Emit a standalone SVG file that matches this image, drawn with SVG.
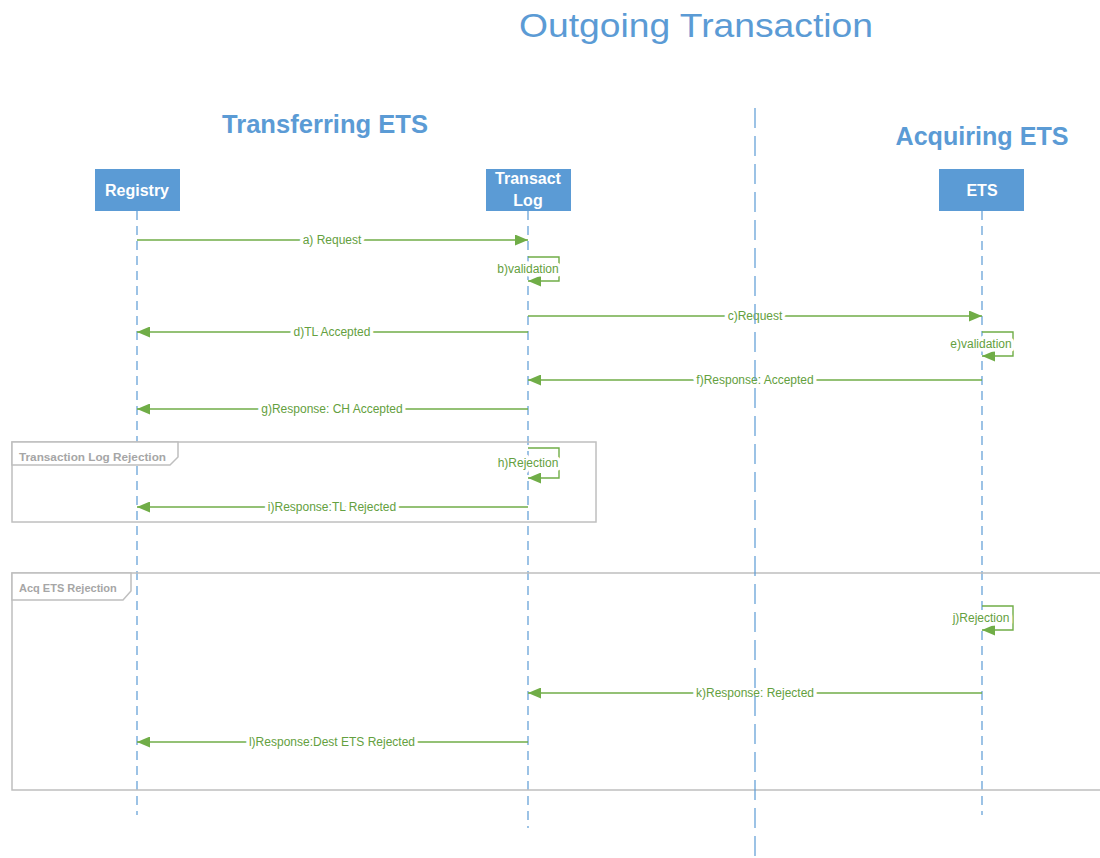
<svg xmlns="http://www.w3.org/2000/svg" width="1100" height="858" viewBox="0 0 1100 858">
  <style>
    .title { font-family: "Liberation Sans", Arial, sans-serif; fill: #5B9BD5; }
    .actor rect { fill: #5B9BD5; }
    .actor text { font-family: "Liberation Sans", Arial, sans-serif; font-weight: bold; font-size: 16px; fill: #fff; text-anchor: middle; }
    .lifeline { stroke: #5B9BD5; stroke-width: 1.2; stroke-dasharray: 9 6; fill: none; }
    .divider { stroke: #5B9BD5; stroke-width: 1.2; stroke-dasharray: 20 8; fill: none; }
    .msg { stroke: #70AD47; stroke-width: 1.4; fill: none; }
    .lbl { font-family: "Liberation Sans", Arial, sans-serif; font-size: 12px; fill: #64A040; text-anchor: middle;
           stroke: #fff; stroke-width: 7; stroke-linejoin: round; paint-order: stroke; }
    .frame { stroke: #BFBFBF; stroke-width: 1.5; fill: none; }
    .tab { stroke: #BFBFBF; stroke-width: 1.5; fill: #fff; }
    .ftxt { font-family: "Liberation Sans", Arial, sans-serif; font-size: 11px; font-weight: bold; fill: #A6A6A6; }
  </style>
  <defs>
    <marker id="arrow" markerWidth="13" markerHeight="11" refX="13" refY="5.5" orient="auto" markerUnits="userSpaceOnUse">
      <path d="M0,0 L13,5.5 L0,11 Z" fill="#70AD47"/>
    </marker>
  </defs>

  <rect width="1100" height="858" fill="#fff"/>

  <!-- headings -->
  <text class="title" x="696" y="37" font-size="34" text-anchor="middle" textLength="354" lengthAdjust="spacingAndGlyphs">Outgoing Transaction</text>
  <text class="title" x="325" y="133" font-size="25" font-weight="bold" text-anchor="middle" textLength="206" lengthAdjust="spacingAndGlyphs">Transferring ETS</text>
  <text class="title" x="982" y="145" font-size="25" font-weight="bold" text-anchor="middle" textLength="173" lengthAdjust="spacingAndGlyphs">Acquiring ETS</text>

  <!-- lifelines -->
  <g id="lifelines">
    <line class="lifeline" x1="137" y1="211" x2="137" y2="815"/>
    <line class="lifeline" x1="528" y1="211" x2="528" y2="828"/>
    <line class="lifeline" x1="982" y1="211" x2="982" y2="815"/>
  </g>

  <!-- combined fragments -->
  <g id="frame-tl-rejection">
    <rect class="frame" x="12" y="442" width="584" height="80"/>
    <path class="tab" d="M12,442 V465 H170 L178,457 V442 Z"/>
    <text class="ftxt" x="19" y="461" textLength="147" lengthAdjust="spacingAndGlyphs">Transaction Log  Rejection</text>
  </g>
  <g id="frame-acq-rejection">
    <path class="frame" d="M1110,573 H12 V790 H1110"/>
    <path class="tab" d="M12,573 V600 H123 L131,591 V573 Z"/>
    <text class="ftxt" x="19" y="592">Acq ETS Rejection</text>
  </g>

  <!-- participants -->
  <g id="registry" class="actor">
    <rect x="95" y="169" width="85" height="42"/>
    <text x="137" y="196">Registry</text>
  </g>
  <g id="transact-log" class="actor">
    <rect x="486" y="169" width="85" height="42"/>
    <text x="528" y="184">Transact</text>
    <text x="528" y="206">Log</text>
  </g>
  <g id="ets" class="actor">
    <rect x="939" y="169" width="85" height="42"/>
    <text x="982" y="196">ETS</text>
  </g>

  <!-- messages -->
  <g id="connectors">
    <line class="msg" x1="137" y1="240" x2="528" y2="240" marker-end="url(#arrow)"/>
    <text class="lbl" x="332" y="244">a) Request</text>

    <path class="msg" d="M528,257 H559 V281 H528" marker-end="url(#arrow)"/>
    <text class="lbl" x="528" y="273">b)validation</text>

    <line class="msg" x1="528" y1="316" x2="982" y2="316" marker-end="url(#arrow)"/>
    <text class="lbl" x="755" y="320">c)Request</text>

    <line class="msg" x1="528" y1="332" x2="137" y2="332" marker-end="url(#arrow)"/>
    <text class="lbl" x="332" y="336">d)TL Accepted</text>

    <path class="msg" d="M982,332 H1013 V356 H982" marker-end="url(#arrow)"/>
    <text class="lbl" x="981" y="348">e)validation</text>

    <line class="msg" x1="982" y1="380" x2="528" y2="380" marker-end="url(#arrow)"/>
    <text class="lbl" x="755" y="384">f)Response: Accepted</text>

    <line class="msg" x1="528" y1="409" x2="137" y2="409" marker-end="url(#arrow)"/>
    <text class="lbl" x="332" y="413">g)Response: CH Accepted</text>

    <path class="msg" d="M528,448 H559 V478 H528" marker-end="url(#arrow)"/>
    <text class="lbl" x="528" y="467">h)Rejection</text>

    <line class="msg" x1="528" y1="507" x2="137" y2="507" marker-end="url(#arrow)"/>
    <text class="lbl" x="332" y="511">i)Response:TL Rejected</text>

    <path class="msg" d="M982,606 H1013 V630 H982" marker-end="url(#arrow)"/>
    <text class="lbl" x="981" y="622">j)Rejection</text>

    <line class="msg" x1="982" y1="693" x2="528" y2="693" marker-end="url(#arrow)"/>
    <text class="lbl" x="755" y="697">k)Response: Rejected</text>

    <line class="msg" x1="528" y1="742" x2="137" y2="742" marker-end="url(#arrow)"/>
    <text class="lbl" x="332" y="746">l)Response:Dest ETS Rejected</text>
  </g>

  <!-- system boundary -->
  <line class="divider" x1="755" y1="108" x2="755" y2="858"/>
</svg>
